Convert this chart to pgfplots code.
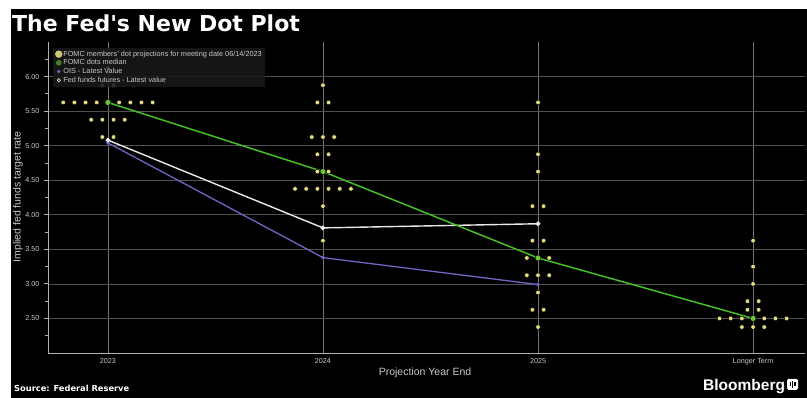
\documentclass[border=0pt]{standalone}
\usepackage{fontspec}
\setmainfont{Liberation Sans}
\newfontfamily\titlefont{DejaVu Sans}
\usepackage{pgfplots}
\usepackage{pgfplotstable}
\pgfplotsset{compat=1.18}
\definecolor{dotyellow}{RGB}{228,220,128}
\definecolor{medgreen}{RGB}{104,196,58}
\definecolor{linegreen}{RGB}{70,190,40}
\definecolor{oispurple}{RGB}{112,102,196}
\definecolor{ffwhite}{RGB}{232,232,232}
\definecolor{gridgray}{RGB}{80,80,80}
\definecolor{vgridgray}{RGB}{115,115,115}
\definecolor{axisgray}{RGB}{175,175,175}
\definecolor{ticktext}{RGB}{200,200,200}
\definecolor{legfill}{RGB}{24,24,24}

% FOMC members' dots (x = category + horizontal offset)
\pgfplotstableread{
x y
-0.208 5.625
-0.156 5.625
-0.104 5.625
-0.052 5.625
0 5.625
0.052 5.625
0.104 5.625
0.156 5.625
0.208 5.625
-0.078 5.375
-0.026 5.375
0.026 5.375
0.078 5.375
-0.026 5.125
0.026 5.125
-0.026 5.875
0.026 5.875
0 6.125
1 5.875
0.974 5.625
1.026 5.625
0.948 5.125
1 5.125
1.052 5.125
0.974 4.875
1.026 4.875
0.974 4.625
1.026 4.625
0.870 4.375
0.922 4.375
0.974 4.375
1.026 4.375
1.078 4.375
1.130 4.375
1 4.125
1 3.625
2 5.625
2 4.875
2 4.625
1.974 4.125
2.026 4.125
1.974 3.625
2.026 3.625
1.948 3.375
2 3.375
2.052 3.375
1.948 3.125
2 3.125
2.052 3.125
2 2.875
1.974 2.625
2.026 2.625
2 2.375
3 3.625
3 3.25
3 3.0
2.974 2.75
3.026 2.75
2.974 2.625
3.026 2.625
2.844 2.5
2.896 2.5
2.948 2.5
3 2.5
3.052 2.5
3.104 2.5
3.156 2.5
2.948 2.375
3 2.375
3.052 2.375
}\dotstable

\pgfplotstableread{
x y
0 5.625
1 4.625
2 3.375
3 2.5
}\mediantable

\pgfplotstableread{
x y
0 5.08
1 3.81
2 3.87
}\futurestable

\pgfplotstableread{
x y
0 5.04
1 3.38
2 2.99
}\oistable

\begin{document}
\begin{tikzpicture}[x=1pt,y=1pt]
\useasboundingbox (0,0) rectangle (807,398);
\fill[white] (0,0) rectangle (807,398);
\fill[black] (11,0) rectangle (807,389);

\node[anchor=base west, text=white, inner sep=0pt] at (12,366)
  {\titlefont\bfseries\fontsize{22}{24}\selectfont The Fed's New Dot Plot};

\begin{axis}[
  at={(48pt,45pt)}, anchor=south west,
  scale only axis, width=757pt, height=311pt,
  xmin=-0.2787, xmax=3.2415, ymin=2, ymax=6.5,
  axis lines*=left,
  axis line style={draw=axisgray, line width=0.8pt},
  xtick={0,1,2,3}, xticklabels={2023,2024,2025,Longer Term},
  ytick={2.5,3,...,6}, minor ytick={2.25,2.75,...,6.25},
  grid=major,
  x grid style={draw=vgridgray, line width=0.7pt},
  y grid style={draw=gridgray, line width=0.7pt},
  tick align=outside, major tick length=4pt, minor tick length=2.5pt,
  xtick style={draw=none},
  ytick style={draw=axisgray, line width=0.8pt},
  tick label style={font=\fontsize{7.2}{8}\selectfont, text=ticktext},
  yticklabel style={/pgf/number format/fixed, /pgf/number format/fixed zerofill, /pgf/number format/precision=2, xshift=-1pt},
  /pgf/number format/assume math mode=true,
  xticklabel style={yshift=2pt},
  legend cell align=left,
  legend style={at={(0.0066,0.982)}, anchor=north west, fill=legfill, fill opacity=0.88, text opacity=1, draw=none,
    font=\fontsize{7.3}{8}\selectfont, text=ticktext, inner sep=2pt, nodes={inner sep=0.95pt}},
  clip=false,
]
\addlegendimage{legend image code/.code={\fill[dotyellow] (3pt,0pt) circle (3.4pt);}}
\addlegendentry{FOMC members' dot projections for meeting date 06/14/2023}
\addlegendimage{legend image code/.code={\fill[medgreen!75!black] (3pt,0pt) circle (2.5pt);}}
\addlegendentry{FOMC dots median}
\addlegendimage{legend image code/.code={\fill[oispurple] (3pt,0pt) circle (1.6pt);}}
\addlegendentry{OIS - Latest Value}
\addlegendimage{legend image code/.code={\draw[ffwhite, line width=0.6pt] (3pt,0pt) circle (1.6pt);}}
\addlegendentry{Fed funds futures - Latest value}

\addplot[forget plot, oispurple, line width=1.3pt, mark=*, mark size=1.1pt] table {\oistable};
\addplot[forget plot, ffwhite, line width=1.4pt, mark=*, mark size=1.6pt] table {\futurestable};
\addplot[forget plot, linegreen, line width=1.5pt] table {\mediantable};
\addplot[forget plot, only marks, mark=*, mark size=2.3pt, mark options={fill=dotyellow, draw=none}] table {\dotstable};
\addplot[forget plot, only marks, mark=*, mark size=3pt, mark options={fill=medgreen, draw=none}] table {\mediantable};
\end{axis}

\node[rotate=90, text=ticktext, font=\fontsize{10.5}{12}\selectfont] at (18,201) {Implied fed funds target rate};
\node[anchor=base, text=ticktext, font=\fontsize{10.5}{12}\selectfont] at (425,22) {Projection Year End};
\node[anchor=base west, text=white, inner sep=0pt] at (14,6)
  {\titlefont\bfseries\fontsize{8.3}{10}\selectfont Source: Federal Reserve};
\node[anchor=base west, text=white, inner sep=0pt] at (703,7)
  {\bfseries\fontsize{15.5}{17}\selectfont Bloomberg};
\fill[white, rounded corners=1.5pt] (787,8) rectangle (798,19);
\fill[black] (789.5,12) rectangle (790.8,15.5);
\fill[black] (791.9,10) rectangle (793.2,17);
\fill[black] (794.3,12) rectangle (795.6,15.5);
\end{tikzpicture}
\end{document}
